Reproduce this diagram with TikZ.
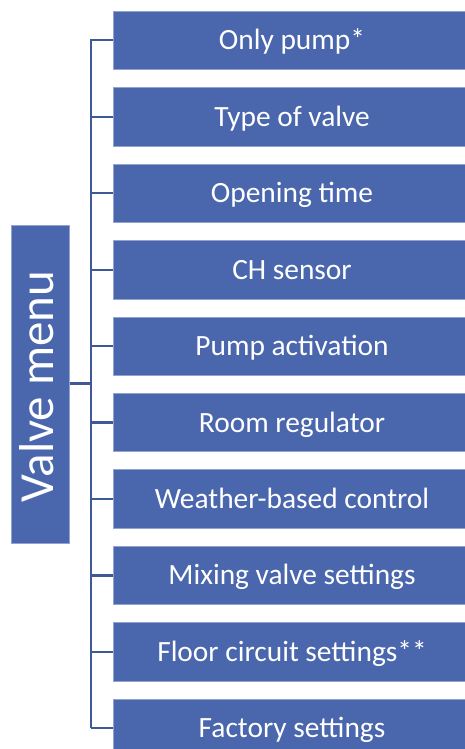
\documentclass[tikz,border=0pt]{standalone}
\usepackage{fontspec}
\setmainfont{Carlito}
\definecolor{boxblue}{HTML}{4A67AD}
\definecolor{lineblue}{HTML}{3F5897}
\tikzset{
  item/.style={fill=boxblue, draw=boxblue!60!white, line width=0.6pt, minimum width=359pt, minimum height=58.5pt, inner sep=0pt, anchor=west},
  itemtext/.style={text=white, font=\fontsize{29.4}{34}\selectfont, anchor=base},
  conn/.style={draw=lineblue, line width=2.2pt},
}
\begin{document}
\begin{tikzpicture}[x=1pt,y=-1pt]
\useasboundingbox (0,0) rectangle (464,749);
% left box
\node[fill=boxblue, draw=boxblue!60!white, line width=0.6pt, minimum width=58pt, minimum height=318pt, inner sep=0pt] (root) at (40.7,384) {};
\node[text=white, font=\fontsize{49}{56}\selectfont, rotate=90, anchor=base] (roottext) at (53.5,386.5) {Valve menu};
% items
\foreach \i/\t in {0/Only pump*,1/Type of valve,2/Opening time,3/CH sensor,4/Pump activation,5/Room regulator,6/Weather-based control,7/Mixing valve settings,8/Floor circuit settings**,9/Factory settings}{
  \node[item] (b\i) at (112.5,{40.25+76.45*\i}) {};
  \node[itemtext] (t\i) at (292,{40.25+76.45*\i+9.5}) {\t};
  \draw[conn] (91,{40.25+76.45*\i}) coordinate (j\i) -- (b\i.west);
}
\draw[conn] (91,39.15) -- (91,728.4);
\coordinate (jr) at (91,383.5);
\draw[conn] (root.east |- jr) -- (jr);
\end{tikzpicture}
\end{document}
